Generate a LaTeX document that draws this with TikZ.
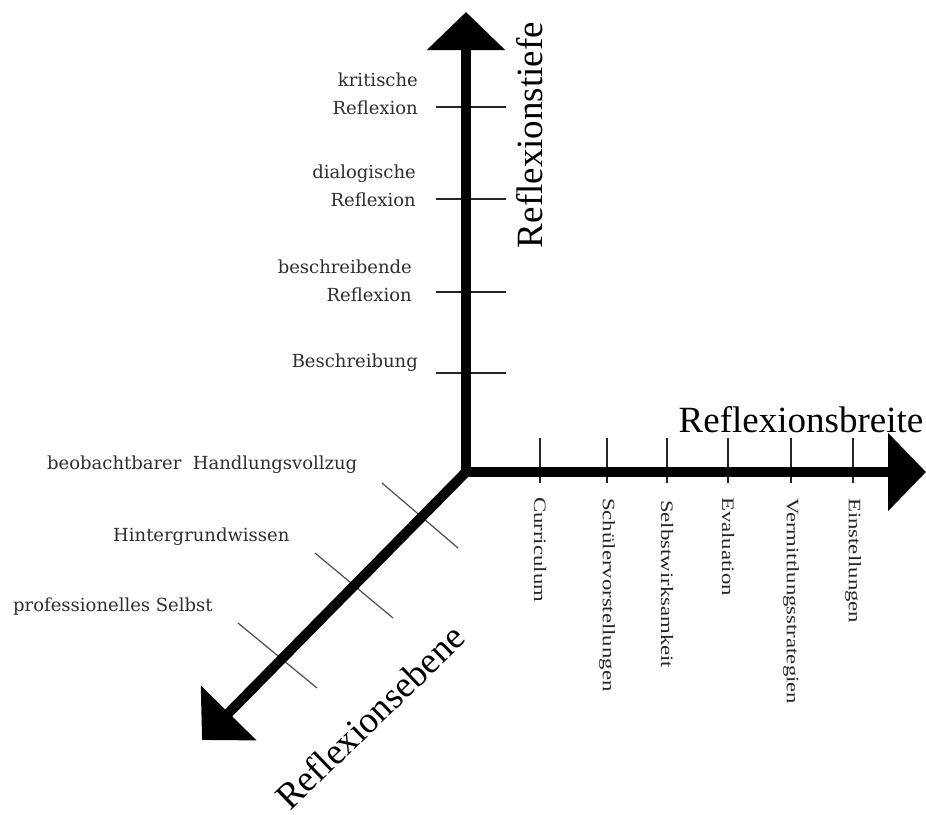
\documentclass[tikz,border=0pt]{standalone}
\usepackage{fontspec}
\usepackage{graphicx}
\usetikzlibrary{arrows.meta}
\setmainfont{Liberation Serif}
\newfontfamily\lblfont{DejaVu Serif}
\begin{document}
\begin{tikzpicture}[x=1pt,y=-1pt,
  axis/.style={line width=10pt, line cap=round, -{Triangle[width=76pt,length=38pt]}},
  tickline/.style={line width=1.4pt, black!85},
  dtickline/.style={line width=1.2pt, black!70},
  titlelbl/.style={font=\fontsize{37}{37}\selectfont, inner sep=0},
  vlabel/.style={font=\lblfont\fontsize{18}{28}\selectfont, text=black!82, align=right, anchor=east, inner sep=0},
  dlabel/.style={font=\lblfont\fontsize{18}{20}\selectfont, text=black!82, anchor=west, inner sep=0},
  hlabel/.style={font=\fontsize{17.5}{20}\selectfont, text=black!85, rotate=-90, anchor=west, inner sep=0},
]
\useasboundingbox (0,0) rectangle (926,814);
\coordinate (O) at (466,472);
\coordinate (T) at (466,12);
\coordinate (R) at (926,472);
\coordinate (D) at (202,740);

% vertical ticks
\foreach \y/\n in {107/v1,199/v2,292/v3,373/v4}{
  \coordinate (\n a) at (436,\y);
  \coordinate (\n b) at (506,\y);
  \draw[tickline] (\n a) -- (\n b);
}
% horizontal ticks
\foreach \x/\n in {540/h1,607/h2,667/h3,728/h4,791/h5,853/h6}{
  \coordinate (\n a) at (\x,438);
  \coordinate (\n b) at (\x,483);
  \draw[tickline] (\n a) -- (\n b);
}
% diagonal ticks
\coordinate (d1a) at (382,483); \coordinate (d1b) at (458,548);
\coordinate (d2a) at (315,553); \coordinate (d2b) at (393,618);
\coordinate (d3a) at (238,623); \coordinate (d3b) at (317,688);
\draw[dtickline] (d1a) -- (d1b);
\draw[dtickline] (d2a) -- (d2b);
\draw[dtickline] (d3a) -- (d3b);

% axes
\draw[axis] (O) -- (T);
\draw[axis] (O) -- (R);
\draw[axis] (O) -- (D);

% titles
\node[titlelbl, rotate=90] (tiefe) at (530,135) {Reflexionstiefe};
\node[titlelbl] (breite) at (801,420) {Reflexionsbreite};
\node[titlelbl, rotate=44] (ebene) at (370,717) {Reflexionsebene};

% vertical labels
\node[vlabel] (kr) at (418,94) {kritische\\Reflexion};
\node[vlabel] (di) at (416,186) {dialogische\\Reflexion};
\node[vlabel] (be) at (412,281) {beschreibende\\Reflexion};
\node[vlabel] (bs) at (418,363) {Beschreibung};

% diagonal labels
\node[dlabel] (hv) at (47,465) {beobachtbarer\ \ Handlungsvollzug};
\node[dlabel] (hw) at (113,537) {Hintergrundwissen};
\node[dlabel] (ps) at (13,607) {professionelles Selbst};

% horizontal labels
\node[hlabel] (cu) at (540,497) {\scalebox{1.3}[1]{Curriculum}};
\node[hlabel] (sv) at (607,498) {\scalebox{1.3}[1]{Schülervorstellungen}};
\node[hlabel] (sw) at (667,500) {\scalebox{1.3}[1]{Selbstwirksamkeit}};
\node[hlabel] (ev) at (728,497) {\scalebox{1.3}[1]{Evaluation}};
\node[hlabel] (vs) at (791,498) {\scalebox{1.3}[1]{Vermittlungsstrategien}};
\node[hlabel] (es) at (853,498) {\scalebox{1.3}[1]{Einstellungen}};
\end{tikzpicture}
\end{document}
